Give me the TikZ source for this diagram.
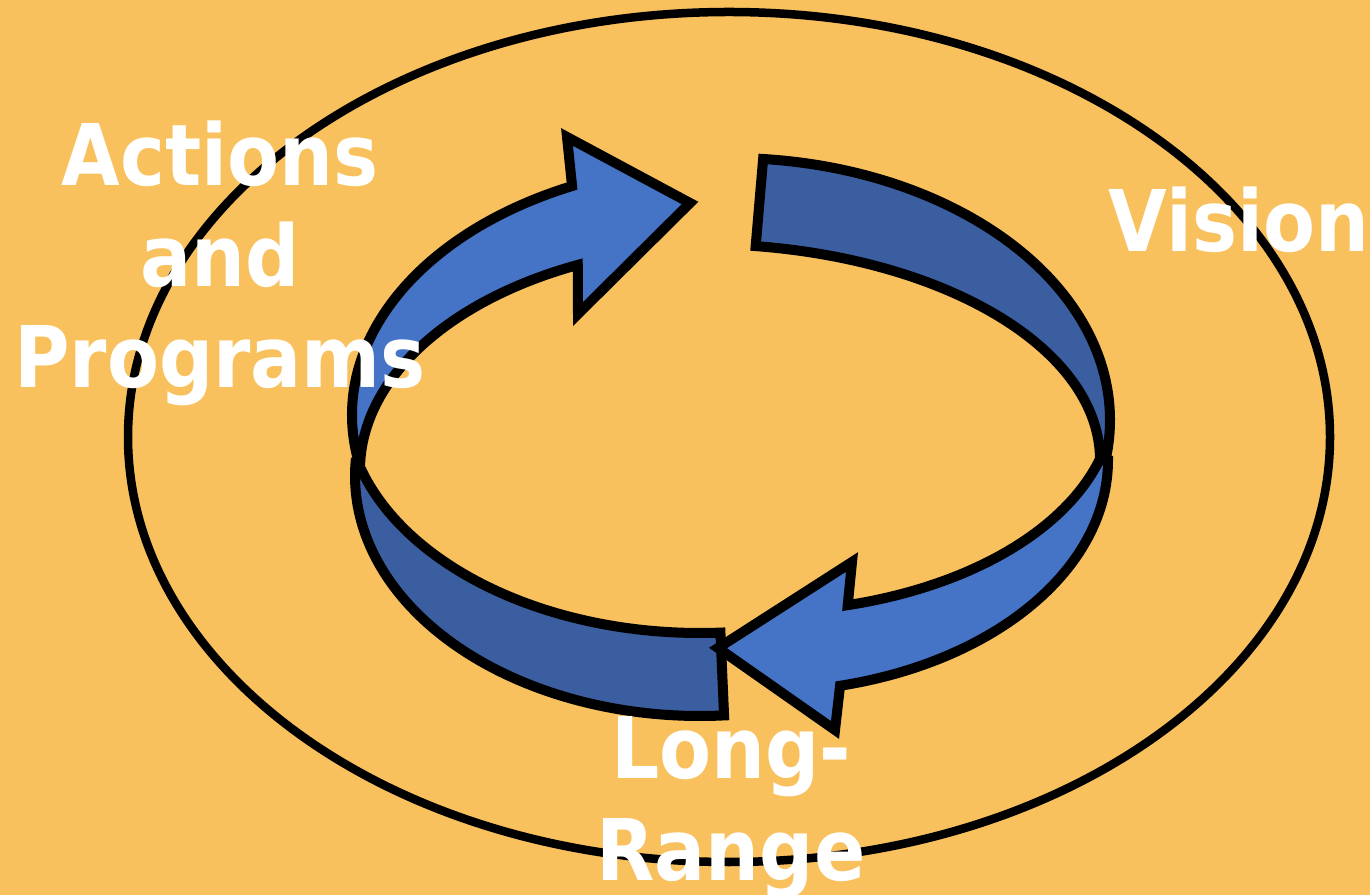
\documentclass[tikz,border=0pt]{standalone}
\usepackage{fontspec}
\newfontfamily\lblfont[FakeStretch=0.89]{DejaVu Sans Bold}
\usepackage{xcolor}
\usetikzlibrary{calc}

\definecolor{bgorange}{HTML}{F9C15E}
\definecolor{ringlight}{HTML}{4573C5}
\definecolor{ringdark}{HTML}{3A5E9F}

\begin{document}
\begin{tikzpicture}[
    x=0.01cm, y=-0.01cm,
    outline/.style={draw=black, line width=0.1cm, line join=miter},
    backband/.style={outline, fill=ringdark},
    frontband/.style={outline, fill=ringlight},
    lbl/.style={text=white, font=\lblfont\fontsize{24.2}{28.8}\selectfont, align=center, inner sep=0pt}
]
\fill[bgorange] (0,0) rectangle (1370,895);
\useasboundingbox (0,0) rectangle (1370,895);

% outer ring
\draw[line width=0.085cm] (729,437) ellipse [x radius=601, y radius=425];

% arrow tips
\coordinate (tipUp) at (690,203);
\coordinate (tipDown) at (718,648);

% dark parts of the band
\path[backband] ($(730,420)+(-85:380 and 262)$) arc[start angle=-85, end angle=8, x radius=380, y radius=262]
    -- ($(700,460)+(-1:400 and 216)$) arc[start angle=-1, end angle=-82, x radius=400, y radius=216] -- cycle;
\path[backband] ($(700,400)+(164.6:355 and 233)$) arc[start angle=164.6, end angle=86.7, x radius=355, y radius=233]
    -- ($(700,476)+(86:345 and 240)$) arc[start angle=86, end angle=183.3, x radius=345, y radius=240] -- cycle;

% arrows
\path[frontband] ($(730,415)+(169.2:378 and 252)$) arc[start angle=169.2, end angle=245.3, x radius=378, y radius=252]
    -- (567,137) -- (tipUp) -- (578,314)
    -- ($(730,470)+(245.7:370 and 225)$) arc[start angle=245.7, end angle=182, x radius=370, y radius=225] -- cycle;
\path[frontband] ($(758,400)+(15.9:356 and 212)$) arc[start angle=15.9, end angle=75.4, x radius=356, y radius=212]
    -- (852,562) -- (tipDown) -- (835,730)
    -- ($(760,460)+(76.7:348 and 232)$) arc[start angle=76.7, end angle=0, x radius=348, y radius=232] -- cycle;

% labels
\node[lbl, anchor=base] (actions) at (220,388) {Actions\\and\\Programs};
\node[lbl, anchor=base west] (vision) at (1108,252) {Vision};
\node[lbl, anchor=base] (longrange) at (731,880) {Long-\\Range};
\end{tikzpicture}
\end{document}
